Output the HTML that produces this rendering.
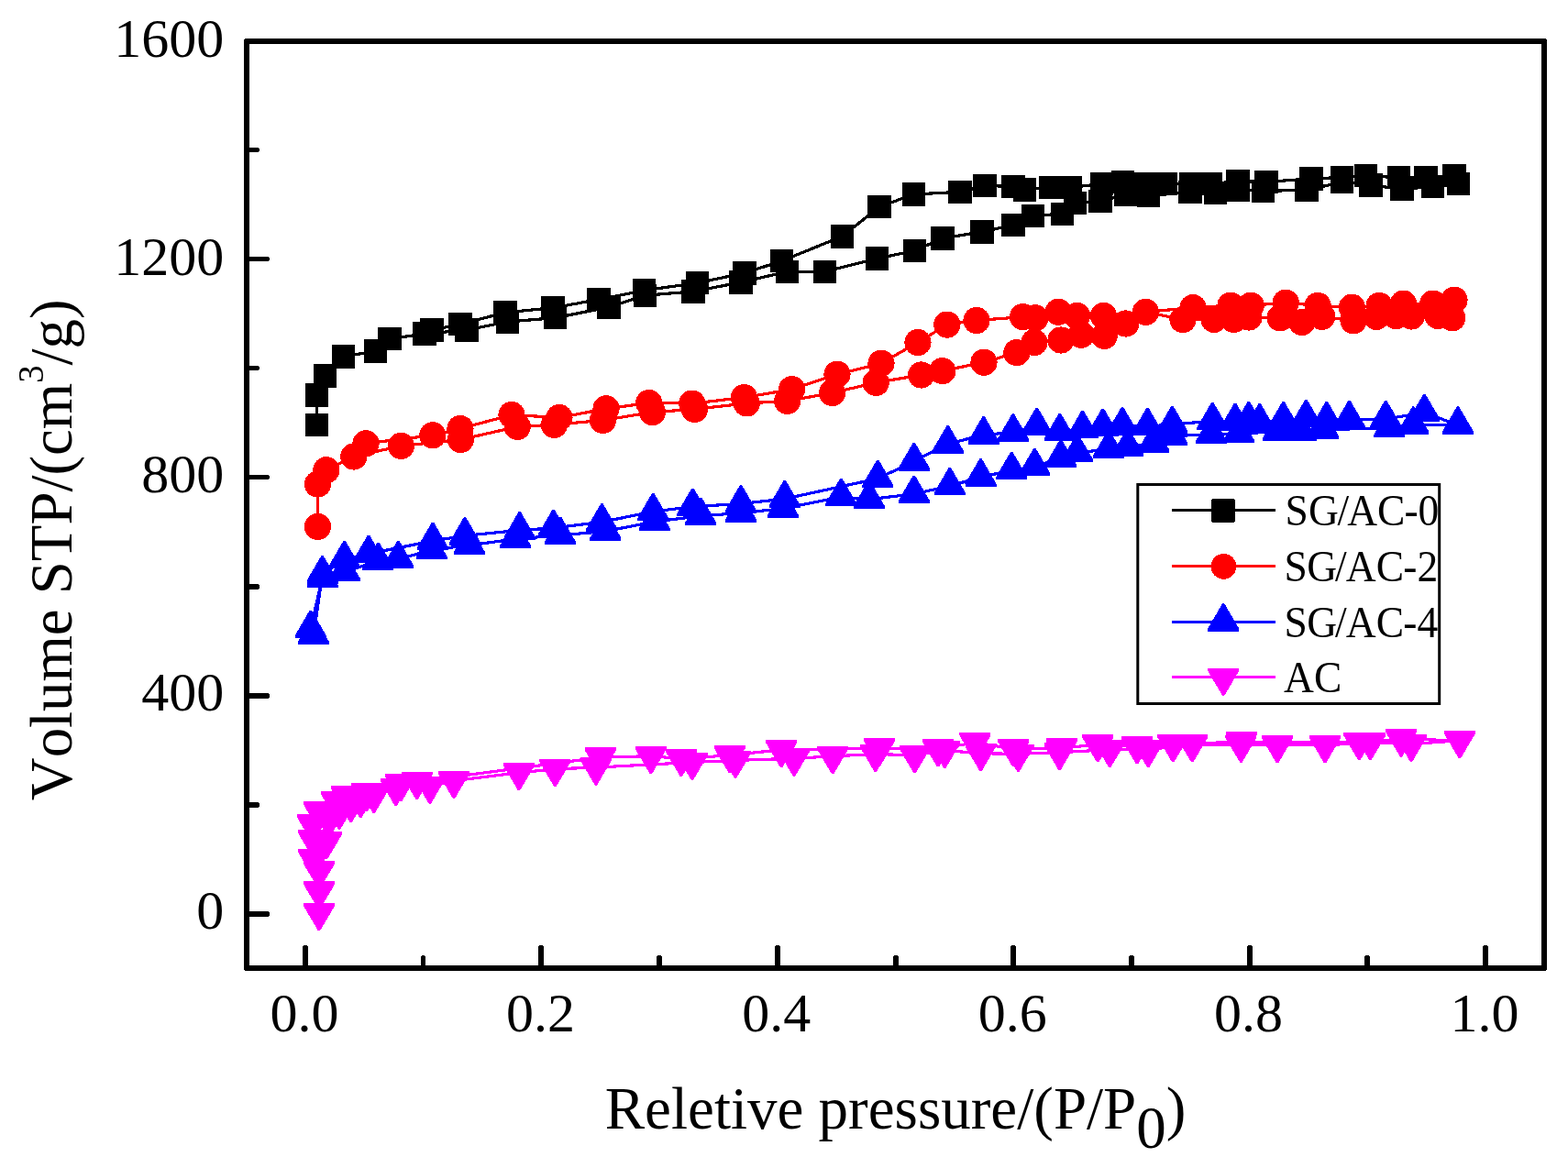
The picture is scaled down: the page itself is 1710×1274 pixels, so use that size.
<!DOCTYPE html>
<html lang="en"><head><meta charset="utf-8"><title>N2 adsorption-desorption isotherms</title>
<style>html,body{margin:0;padding:0;background:#fff}body{width:1710px;height:1274px;overflow:hidden}svg{display:block}text{font-family:"Liberation Serif","DejaVu Serif",serif;fill:#000;font-kerning:none;font-variant-ligatures:none}</style>
</head><body>
<svg width="1710" height="1274" viewBox="0 0 1710 1274">
<rect width="1710" height="1274" fill="#fff"/>
<g fill="#000" shape-rendering="crispEdges"><path d="M330 1056V1032h1v-1h4v1h1V1056z"/><path d="M459 1056V1043h1v-1h3v1h1V1056z"/><path d="M587 1056V1032h1v-1h4v1h1V1056z"/><path d="M716 1056V1043h1v-1h4v1h1V1056z"/><path d="M845 1056V1032h1v-1h4v1h1V1056z"/><path d="M974 1056V1043h1v-1h4v1h1V1056z"/><path d="M1102 1056V1032h1v-1h4v1h1V1056z"/><path d="M1231 1056V1043h1v-1h4v1h1V1056z"/><path d="M1360 1056V1032h1v-1h4v1h1V1056z"/><path d="M1488 1056V1043h1v-1h4v1h1V1056z"/><path d="M1617 1056V1032h1v-1h4v1h1V1056z"/><path d="M269 994H293v1h1v4h-1v1H269z"/><path d="M269 875H282v1h1v4h-1v1H269z"/><path d="M269 756H293v1h1v4h-1v1H269z"/><path d="M269 637H282v1h1v4h-1v1H269z"/><path d="M269 518H293v1h1v3h-1v1H269z"/><path d="M269 399H282v1h1v3h-1v1H269z"/><path d="M269 280H293v1h1v3h-1v1H269z"/><path d="M269 161H282v1h1v3h-1v1H269z"/></g>
<rect x="269" y="45" width="1415" height="1011" fill="none" stroke="#000" stroke-width="6" stroke-linejoin="round" shape-rendering="crispEdges"/>
<g font-size="60" text-anchor="end"><text x="244.2" y="1013">0</text><text x="244.2" y="775">400</text><text x="244.2" y="537">800</text><text x="244.2" y="299.5">1200</text><text x="244.2" y="62">1600</text></g>
<g font-size="60" text-anchor="middle"><text x="332" y="1124.6">0.0</text><text x="589.4" y="1124.6">0.2</text><text x="846.8" y="1124.6">0.4</text><text x="1104.2" y="1124.6">0.6</text><text x="1361.6" y="1124.6">0.8</text><text x="1619" y="1124.6">1.0</text></g>
<text x="976.6" y="1231" font-size="65" text-anchor="middle">Reletive pressure/(P/P<tspan dy="21">0</tspan><tspan dy="-21">)</tspan></text>
<text transform="translate(78.3,599.8) rotate(-90) scale(0.982,1)" font-size="66" text-anchor="middle">Volume STP/(cm<tspan dy="-31" font-size="39.5">3</tspan><tspan dy="31">/g)</tspan></text>
<g shape-rendering="crispEdges"><polyline fill="none" stroke="#000" stroke-width="3.2" stroke-linejoin="round" points="345.5,463.4 345.5,431 354.5,410 374.5,389 409.7,383 425,369.7 463,364 509,360 553.5,351 605.5,346.7 664,335 703.6,322.2 755.8,318 807.8,308 858.3,296.3 899.4,296.3 956.6,282 997.3,273.5 1028,260 1071,252.8 1105,245.5 1126.5,235.4 1158.3,233.2 1172.3,221.3 1200,219.3 1227.4,212.4 1252.4,213.6 1298,209.6 1325.5,210.5 1350.4,207.5 1377.5,208.2 1425,207.5 1463.6,198.4 1495,202 1529,206.2 1562.4,203.6 1590.2,200.5"/><polyline fill="none" stroke="#000" stroke-width="3.2" stroke-linejoin="round" points="1586,191.7 1555,193.7 1525.3,193.7 1489.5,191.7 1463.6,193.6 1430,194.8 1381,198.5 1350,197.6 1320,200.6 1298.7,200.6 1271.3,200.6 1250,200.6 1224.7,198.3 1201.2,200.6 1167.4,204.4 1146,204.2 1117.7,207 1105,203.4 1074,202.5 1047,209.3 996.5,212 959,225.6 918.5,257.8 852.4,284.7 812,297.8 760.4,308.7 702.7,316.7 652.8,326.7 603,335.8 551,340.8 502,353.7 471,359.8"/><g fill="#000"><rect x="332.8" y="450.7" width="25.4" height="25.4"/><rect x="332.8" y="418.3" width="25.4" height="25.4"/><rect x="341.8" y="397.3" width="25.4" height="25.4"/><rect x="361.8" y="376.3" width="25.4" height="25.4"/><rect x="397" y="370.3" width="25.4" height="25.4"/><rect x="412.3" y="357" width="25.4" height="25.4"/><rect x="450.3" y="351.3" width="25.4" height="25.4"/><rect x="496.3" y="347.3" width="25.4" height="25.4"/><rect x="540.8" y="338.3" width="25.4" height="25.4"/><rect x="592.8" y="334" width="25.4" height="25.4"/><rect x="651.3" y="322.3" width="25.4" height="25.4"/><rect x="690.9" y="309.5" width="25.4" height="25.4"/><rect x="743.1" y="305.3" width="25.4" height="25.4"/><rect x="795.1" y="295.3" width="25.4" height="25.4"/><rect x="845.6" y="283.6" width="25.4" height="25.4"/><rect x="886.7" y="283.6" width="25.4" height="25.4"/><rect x="943.9" y="269.3" width="25.4" height="25.4"/><rect x="984.6" y="260.8" width="25.4" height="25.4"/><rect x="1015.3" y="247.3" width="25.4" height="25.4"/><rect x="1058.3" y="240.1" width="25.4" height="25.4"/><rect x="1092.3" y="232.8" width="25.4" height="25.4"/><rect x="1113.8" y="222.7" width="25.4" height="25.4"/><rect x="1145.6" y="220.5" width="25.4" height="25.4"/><rect x="1159.6" y="208.6" width="25.4" height="25.4"/><rect x="1187.3" y="206.6" width="25.4" height="25.4"/><rect x="1214.7" y="199.7" width="25.4" height="25.4"/><rect x="1239.7" y="200.9" width="25.4" height="25.4"/><rect x="1285.3" y="196.9" width="25.4" height="25.4"/><rect x="1312.8" y="197.8" width="25.4" height="25.4"/><rect x="1337.7" y="194.8" width="25.4" height="25.4"/><rect x="1364.8" y="195.5" width="25.4" height="25.4"/><rect x="1412.3" y="194.8" width="25.4" height="25.4"/><rect x="1450.9" y="185.7" width="25.4" height="25.4"/><rect x="1482.3" y="189.3" width="25.4" height="25.4"/><rect x="1516.3" y="193.5" width="25.4" height="25.4"/><rect x="1549.7" y="190.9" width="25.4" height="25.4"/><rect x="1577.5" y="187.8" width="25.4" height="25.4"/><rect x="1573.3" y="179" width="25.4" height="25.4"/><rect x="1542.3" y="181" width="25.4" height="25.4"/><rect x="1512.6" y="181" width="25.4" height="25.4"/><rect x="1476.8" y="179" width="25.4" height="25.4"/><rect x="1450.9" y="180.9" width="25.4" height="25.4"/><rect x="1417.3" y="182.1" width="25.4" height="25.4"/><rect x="1368.3" y="185.8" width="25.4" height="25.4"/><rect x="1337.3" y="184.9" width="25.4" height="25.4"/><rect x="1307.3" y="187.9" width="25.4" height="25.4"/><rect x="1286" y="187.9" width="25.4" height="25.4"/><rect x="1258.6" y="187.9" width="25.4" height="25.4"/><rect x="1237.3" y="187.9" width="25.4" height="25.4"/><rect x="1212" y="185.6" width="25.4" height="25.4"/><rect x="1188.5" y="187.9" width="25.4" height="25.4"/><rect x="1154.7" y="191.7" width="25.4" height="25.4"/><rect x="1133.3" y="191.5" width="25.4" height="25.4"/><rect x="1105" y="194.3" width="25.4" height="25.4"/><rect x="1092.3" y="190.7" width="25.4" height="25.4"/><rect x="1061.3" y="189.8" width="25.4" height="25.4"/><rect x="1034.3" y="196.6" width="25.4" height="25.4"/><rect x="983.8" y="199.3" width="25.4" height="25.4"/><rect x="946.3" y="212.9" width="25.4" height="25.4"/><rect x="905.8" y="245.1" width="25.4" height="25.4"/><rect x="839.7" y="272" width="25.4" height="25.4"/><rect x="799.3" y="285.1" width="25.4" height="25.4"/><rect x="747.7" y="296" width="25.4" height="25.4"/><rect x="690" y="304" width="25.4" height="25.4"/><rect x="640.1" y="314" width="25.4" height="25.4"/><rect x="590.3" y="323.1" width="25.4" height="25.4"/><rect x="538.3" y="328.1" width="25.4" height="25.4"/><rect x="489.3" y="341" width="25.4" height="25.4"/><rect x="458.3" y="347.1" width="25.4" height="25.4"/></g></g>
<g shape-rendering="crispEdges"><polyline fill="none" stroke="#f00" stroke-width="3.2" stroke-linejoin="round" points="346.5,574.4 346.5,528.1 355.8,512.7 385.7,498 437.3,486.4 502.3,479.5 564.2,465.4 604.4,463.3 657.5,458.4 711.4,449.6 757.5,446.4 814.3,439.9 858.7,437.4 907.6,428.5 955.2,417.4 1004.6,409 1027.8,404.6 1073,395.2 1108.8,384.6 1128,373.5 1157,371 1179.3,365.2 1204.2,366.4 1227.7,353 1249.4,340.3 1290,348.6 1324,348.4 1345.5,348.4 1362,346 1396,346.8 1419.8,351.5 1441.8,345.4 1476,349.7 1501.1,345.4 1522.4,344.5 1539.2,345 1568.1,344.5 1583.7,346.8"/><polyline fill="none" stroke="#f00" stroke-width="3.2" stroke-linejoin="round" points="1586,327.3 1562.8,331.1 1530.5,331.1 1504.1,333.4 1474.4,335.2 1437.1,333.4 1402.2,330.2 1364.3,333.2 1342,333.2 1301,335.6 1249.4,340.3 1203.4,344.4 1174.5,344.4 1154.2,340.3 1129,346.7 1115.5,345.7 1065,349.5 1032.8,354.1 1001,373.5 961,396.3 913,408.3 863.6,424.7 811.4,433.6 754.7,440.1 707.8,439.5 661,445.8 610,455.5 558,452.5 502,467.5 471.8,474.8 399,483.7"/><g fill="#f00"><circle cx="346.5" cy="574.4" r="14.6"/><circle cx="346.5" cy="528.1" r="14.6"/><circle cx="355.8" cy="512.7" r="14.6"/><circle cx="385.7" cy="498" r="14.6"/><circle cx="437.3" cy="486.4" r="14.6"/><circle cx="502.3" cy="479.5" r="14.6"/><circle cx="564.2" cy="465.4" r="14.6"/><circle cx="604.4" cy="463.3" r="14.6"/><circle cx="657.5" cy="458.4" r="14.6"/><circle cx="711.4" cy="449.6" r="14.6"/><circle cx="757.5" cy="446.4" r="14.6"/><circle cx="814.3" cy="439.9" r="14.6"/><circle cx="858.7" cy="437.4" r="14.6"/><circle cx="907.6" cy="428.5" r="14.6"/><circle cx="955.2" cy="417.4" r="14.6"/><circle cx="1004.6" cy="409" r="14.6"/><circle cx="1027.8" cy="404.6" r="14.6"/><circle cx="1073" cy="395.2" r="14.6"/><circle cx="1108.8" cy="384.6" r="14.6"/><circle cx="1128" cy="373.5" r="14.6"/><circle cx="1157" cy="371" r="14.6"/><circle cx="1179.3" cy="365.2" r="14.6"/><circle cx="1204.2" cy="366.4" r="14.6"/><circle cx="1227.7" cy="353" r="14.6"/><circle cx="1249.4" cy="340.3" r="14.6"/><circle cx="1290" cy="348.6" r="14.6"/><circle cx="1324" cy="348.4" r="14.6"/><circle cx="1345.5" cy="348.4" r="14.6"/><circle cx="1362" cy="346" r="14.6"/><circle cx="1396" cy="346.8" r="14.6"/><circle cx="1419.8" cy="351.5" r="14.6"/><circle cx="1441.8" cy="345.4" r="14.6"/><circle cx="1476" cy="349.7" r="14.6"/><circle cx="1501.1" cy="345.4" r="14.6"/><circle cx="1522.4" cy="344.5" r="14.6"/><circle cx="1539.2" cy="345" r="14.6"/><circle cx="1568.1" cy="344.5" r="14.6"/><circle cx="1583.7" cy="346.8" r="14.6"/><circle cx="1586" cy="327.3" r="14.6"/><circle cx="1562.8" cy="331.1" r="14.6"/><circle cx="1530.5" cy="331.1" r="14.6"/><circle cx="1504.1" cy="333.4" r="14.6"/><circle cx="1474.4" cy="335.2" r="14.6"/><circle cx="1437.1" cy="333.4" r="14.6"/><circle cx="1402.2" cy="330.2" r="14.6"/><circle cx="1364.3" cy="333.2" r="14.6"/><circle cx="1342" cy="333.2" r="14.6"/><circle cx="1301" cy="335.6" r="14.6"/><circle cx="1249.4" cy="340.3" r="14.6"/><circle cx="1203.4" cy="344.4" r="14.6"/><circle cx="1174.5" cy="344.4" r="14.6"/><circle cx="1154.2" cy="340.3" r="14.6"/><circle cx="1129" cy="346.7" r="14.6"/><circle cx="1115.5" cy="345.7" r="14.6"/><circle cx="1065" cy="349.5" r="14.6"/><circle cx="1032.8" cy="354.1" r="14.6"/><circle cx="1001" cy="373.5" r="14.6"/><circle cx="961" cy="396.3" r="14.6"/><circle cx="913" cy="408.3" r="14.6"/><circle cx="863.6" cy="424.7" r="14.6"/><circle cx="811.4" cy="433.6" r="14.6"/><circle cx="754.7" cy="440.1" r="14.6"/><circle cx="707.8" cy="439.5" r="14.6"/><circle cx="661" cy="445.8" r="14.6"/><circle cx="610" cy="455.5" r="14.6"/><circle cx="558" cy="452.5" r="14.6"/><circle cx="502" cy="467.5" r="14.6"/><circle cx="471.8" cy="474.8" r="14.6"/><circle cx="399" cy="483.7" r="14.6"/></g></g>
<g shape-rendering="crispEdges"><polyline fill="none" stroke="#00f" stroke-width="3.2" stroke-linejoin="round" points="338.7,686 351.5,630.7 375.8,623.9 412.4,611.8 434.4,610.1 470.5,599.7 511.8,594.8 562.1,587.9 611,583.9 660.4,579.5 713.7,569 764.2,562.8 808,559.5 853.9,554.8 917.3,542 947.8,544.7 996.8,538.8 1035.8,530.1 1069.5,520.4 1103.2,513 1128.4,509 1156.9,499.7 1175,493.9 1209.1,489.8 1230,487.5 1258,483.2 1278,475.6 1321,473.8 1351,473 1393.8,470.8 1419,470.8 1443.2,468.7 1515.4,466.7 1541.3,463.6 1590,463.6"/><polyline fill="none" stroke="#00f" stroke-width="3.2" stroke-linejoin="round" points="1590,463.6 1553.4,450 1511.3,457.1 1471.5,457.1 1446.8,458.2 1424.4,456 1399.6,458.2 1373.7,460.2 1361.8,458.2 1347,460 1322.3,459.1 1278.4,463.1 1251.5,465 1224,464.2 1202.7,465.7 1180.6,468 1155.8,471 1130.7,464.9 1104.8,471.6 1072.6,474.3 1033.7,484.2 996.8,503.2 957.3,522 855.8,544.1 808,549.4 755.4,552.7 712.2,558 656.4,569.4 603.6,575.9 566.7,578.4 507,584.3 472,590 402,604 375.6,610.1 351.5,626.2 342,693"/><g fill="#00f"><path d="M321.7 696.3h34v-3.2L339.8 665.8h-2.2L321.7 693.1z"/><path d="M334.5 641h34v-3.2L352.6 610.5h-2.2L334.5 637.8z"/><path d="M358.8 634.2h34v-3.2L376.9 603.7h-2.2L358.8 631z"/><path d="M395.4 622.1h34v-3.2L413.5 591.6h-2.2L395.4 618.9z"/><path d="M417.4 620.4h34v-3.2L435.5 589.9h-2.2L417.4 617.2z"/><path d="M453.5 610h34v-3.2L471.6 579.5h-2.2L453.5 606.8z"/><path d="M494.8 605.1h34v-3.2L512.9 574.6h-2.2L494.8 601.9z"/><path d="M545.1 598.2h34v-3.2L563.2 567.7h-2.2L545.1 595z"/><path d="M594 594.2h34v-3.2L612.1 563.7h-2.2L594 591z"/><path d="M643.4 589.8h34v-3.2L661.5 559.3h-2.2L643.4 586.6z"/><path d="M696.7 579.3h34v-3.2L714.8 548.8h-2.2L696.7 576.1z"/><path d="M747.2 573.1h34v-3.2L765.3 542.6h-2.2L747.2 569.9z"/><path d="M791 569.8h34v-3.2L809.1 539.3h-2.2L791 566.6z"/><path d="M836.9 565.1h34v-3.2L855 534.6h-2.2L836.9 561.9z"/><path d="M900.3 552.3h34v-3.2L918.4 521.8h-2.2L900.3 549.1z"/><path d="M930.8 555h34v-3.2L948.9 524.5h-2.2L930.8 551.8z"/><path d="M979.8 549.1h34v-3.2L997.9 518.6h-2.2L979.8 545.9z"/><path d="M1018.8 540.4h34v-3.2L1036.9 509.9h-2.2L1018.8 537.2z"/><path d="M1052.5 530.7h34v-3.2L1070.6 500.2h-2.2L1052.5 527.5z"/><path d="M1086.2 523.3h34v-3.2L1104.3 492.8h-2.2L1086.2 520.1z"/><path d="M1111.4 519.3h34v-3.2L1129.5 488.8h-2.2L1111.4 516.1z"/><path d="M1139.9 510h34v-3.2L1158 479.5h-2.2L1139.9 506.8z"/><path d="M1158 504.2h34v-3.2L1176.1 473.7h-2.2L1158 501z"/><path d="M1192.1 500.1h34v-3.2L1210.2 469.6h-2.2L1192.1 496.9z"/><path d="M1213 497.8h34v-3.2L1231.1 467.3h-2.2L1213 494.6z"/><path d="M1241 493.5h34v-3.2L1259.1 463h-2.2L1241 490.3z"/><path d="M1261 485.9h34v-3.2L1279.1 455.4h-2.2L1261 482.7z"/><path d="M1304 484.1h34v-3.2L1322.1 453.6h-2.2L1304 480.9z"/><path d="M1334 483.3h34v-3.2L1352.1 452.8h-2.2L1334 480.1z"/><path d="M1376.8 481.1h34v-3.2L1394.9 450.6h-2.2L1376.8 477.9z"/><path d="M1402 481.1h34v-3.2L1420.1 450.6h-2.2L1402 477.9z"/><path d="M1426.2 479h34v-3.2L1444.3 448.5h-2.2L1426.2 475.8z"/><path d="M1498.4 477h34v-3.2L1516.5 446.5h-2.2L1498.4 473.8z"/><path d="M1524.3 473.9h34v-3.2L1542.4 443.4h-2.2L1524.3 470.7z"/><path d="M1573 473.9h34v-3.2L1591.1 443.4h-2.2L1573 470.7z"/><path d="M1573 473.9h34v-3.2L1591.1 443.4h-2.2L1573 470.7z"/><path d="M1536.4 460.3h34v-3.2L1554.5 429.8h-2.2L1536.4 457.1z"/><path d="M1494.3 467.4h34v-3.2L1512.4 436.9h-2.2L1494.3 464.2z"/><path d="M1454.5 467.4h34v-3.2L1472.6 436.9h-2.2L1454.5 464.2z"/><path d="M1429.8 468.5h34v-3.2L1447.9 438h-2.2L1429.8 465.3z"/><path d="M1407.4 466.3h34v-3.2L1425.5 435.8h-2.2L1407.4 463.1z"/><path d="M1382.6 468.5h34v-3.2L1400.7 438h-2.2L1382.6 465.3z"/><path d="M1356.7 470.5h34v-3.2L1374.8 440h-2.2L1356.7 467.3z"/><path d="M1344.8 468.5h34v-3.2L1362.9 438h-2.2L1344.8 465.3z"/><path d="M1330 470.3h34v-3.2L1348.1 439.8h-2.2L1330 467.1z"/><path d="M1305.3 469.4h34v-3.2L1323.4 438.9h-2.2L1305.3 466.2z"/><path d="M1261.4 473.4h34v-3.2L1279.5 442.9h-2.2L1261.4 470.2z"/><path d="M1234.5 475.3h34v-3.2L1252.6 444.8h-2.2L1234.5 472.1z"/><path d="M1207 474.5h34v-3.2L1225.1 444h-2.2L1207 471.3z"/><path d="M1185.7 476h34v-3.2L1203.8 445.5h-2.2L1185.7 472.8z"/><path d="M1163.6 478.3h34v-3.2L1181.7 447.8h-2.2L1163.6 475.1z"/><path d="M1138.8 481.3h34v-3.2L1156.9 450.8h-2.2L1138.8 478.1z"/><path d="M1113.7 475.2h34v-3.2L1131.8 444.7h-2.2L1113.7 472z"/><path d="M1087.8 481.9h34v-3.2L1105.9 451.4h-2.2L1087.8 478.7z"/><path d="M1055.6 484.6h34v-3.2L1073.7 454.1h-2.2L1055.6 481.4z"/><path d="M1016.7 494.5h34v-3.2L1034.8 464h-2.2L1016.7 491.3z"/><path d="M979.8 513.5h34v-3.2L997.9 483h-2.2L979.8 510.3z"/><path d="M940.3 532.3h34v-3.2L958.4 501.8h-2.2L940.3 529.1z"/><path d="M838.8 554.4h34v-3.2L856.9 523.9h-2.2L838.8 551.2z"/><path d="M791 559.7h34v-3.2L809.1 529.2h-2.2L791 556.5z"/><path d="M738.4 563h34v-3.2L756.5 532.5h-2.2L738.4 559.8z"/><path d="M695.2 568.3h34v-3.2L713.3 537.8h-2.2L695.2 565.1z"/><path d="M639.4 579.7h34v-3.2L657.5 549.2h-2.2L639.4 576.5z"/><path d="M586.6 586.2h34v-3.2L604.7 555.7h-2.2L586.6 583z"/><path d="M549.7 588.7h34v-3.2L567.8 558.2h-2.2L549.7 585.5z"/><path d="M490 594.6h34v-3.2L508.1 564.1h-2.2L490 591.4z"/><path d="M455 600.3h34v-3.2L473.1 569.8h-2.2L455 597.1z"/><path d="M385 614.3h34v-3.2L403.1 583.8h-2.2L385 611.1z"/><path d="M358.6 620.4h34v-3.2L376.7 589.9h-2.2L358.6 617.2z"/><path d="M334.5 636.5h34v-3.2L352.6 606h-2.2L334.5 633.3z"/><path d="M325 703.3h34v-3.2L343.1 672.8h-2.2L325 700.1z"/></g></g>
<g shape-rendering="crispEdges"><polyline fill="none" stroke="#f0f" stroke-width="3.2" stroke-linejoin="round" points="348,995.8 348,972.2 348,949.9 342,937.1 342,916.2 341,899.2 348,885.2 370,885.3 382.6,877.6 393.3,872.7 407.8,867.5 431.6,859.5 468.8,857.3 495,851.6 566,842.8 605.4,838.8 649.9,837.1 754.9,831.5 802,829.4 866,827.3 908.1,824.9 954.7,822.4 997.5,824 1030.3,818.5 1069.5,821.7 1110.5,822.4 1155.5,820.7 1210.3,817.7 1252.2,817.7 1300.2,812 1353.4,812.4 1393,812.9 1445,812.9 1494.4,809.8 1539,811.5 1591.9,807.8"/><polyline fill="none" stroke="#f0f" stroke-width="3.2" stroke-linejoin="round" points="1591.9,807.8 1528,806.1 1482.3,809.9 1353.8,809 1279.3,812 1240,814 1197.2,812 1157.8,816.1 1105.3,817 1063.4,809.9 1023,817 959,816.1 852.2,817.8 795.8,823.8 742.9,827.6 709.9,824.7 654.8,826.1 454.6,852.7 437,854.9 400,865.1 378.2,867.9 367,874.1 358.7,893.8 356,917.8"/><g fill="#f0f"><path d="M331 985h34v3.2L349.1 1015.2h-2.2L331 988.2z"/><path d="M331 961.4h34v3.2L349.1 991.6h-2.2L331 964.6z"/><path d="M331 939.1h34v3.2L349.1 969.3h-2.2L331 942.3z"/><path d="M325 926.3h34v3.2L343.1 956.5h-2.2L325 929.5z"/><path d="M325 905.4h34v3.2L343.1 935.6h-2.2L325 908.6z"/><path d="M324 888.4h34v3.2L342.1 918.6h-2.2L324 891.6z"/><path d="M331 874.4h34v3.2L349.1 904.6h-2.2L331 877.6z"/><path d="M353 874.5h34v3.2L371.1 904.7h-2.2L353 877.7z"/><path d="M365.6 866.8h34v3.2L383.7 897h-2.2L365.6 870z"/><path d="M376.3 861.9h34v3.2L394.4 892.1h-2.2L376.3 865.1z"/><path d="M390.8 856.7h34v3.2L408.9 886.9h-2.2L390.8 859.9z"/><path d="M414.6 848.7h34v3.2L432.7 878.9h-2.2L414.6 851.9z"/><path d="M451.8 846.5h34v3.2L469.9 876.7h-2.2L451.8 849.7z"/><path d="M478 840.8h34v3.2L496.1 871h-2.2L478 844z"/><path d="M549 832h34v3.2L567.1 862.2h-2.2L549 835.2z"/><path d="M588.4 828h34v3.2L606.5 858.2h-2.2L588.4 831.2z"/><path d="M632.9 826.3h34v3.2L651 856.5h-2.2L632.9 829.5z"/><path d="M737.9 820.7h34v3.2L756 850.9h-2.2L737.9 823.9z"/><path d="M785 818.6h34v3.2L803.1 848.8h-2.2L785 821.8z"/><path d="M849 816.5h34v3.2L867.1 846.7h-2.2L849 819.7z"/><path d="M891.1 814.1h34v3.2L909.2 844.3h-2.2L891.1 817.3z"/><path d="M937.7 811.6h34v3.2L955.8 841.8h-2.2L937.7 814.8z"/><path d="M980.5 813.2h34v3.2L998.6 843.4h-2.2L980.5 816.4z"/><path d="M1013.3 807.7h34v3.2L1031.4 837.9h-2.2L1013.3 810.9z"/><path d="M1052.5 810.9h34v3.2L1070.6 841.1h-2.2L1052.5 814.1z"/><path d="M1093.5 811.6h34v3.2L1111.6 841.8h-2.2L1093.5 814.8z"/><path d="M1138.5 809.9h34v3.2L1156.6 840.1h-2.2L1138.5 813.1z"/><path d="M1193.3 806.9h34v3.2L1211.4 837.1h-2.2L1193.3 810.1z"/><path d="M1235.2 806.9h34v3.2L1253.3 837.1h-2.2L1235.2 810.1z"/><path d="M1283.2 801.2h34v3.2L1301.3 831.4h-2.2L1283.2 804.4z"/><path d="M1336.4 801.6h34v3.2L1354.5 831.8h-2.2L1336.4 804.8z"/><path d="M1376 802.1h34v3.2L1394.1 832.3h-2.2L1376 805.3z"/><path d="M1428 802.1h34v3.2L1446.1 832.3h-2.2L1428 805.3z"/><path d="M1477.4 799h34v3.2L1495.5 829.2h-2.2L1477.4 802.2z"/><path d="M1522 800.7h34v3.2L1540.1 830.9h-2.2L1522 803.9z"/><path d="M1574.9 797h34v3.2L1593 827.2h-2.2L1574.9 800.2z"/><path d="M1574.9 797h34v3.2L1593 827.2h-2.2L1574.9 800.2z"/><path d="M1511 795.3h34v3.2L1529.1 825.5h-2.2L1511 798.5z"/><path d="M1465.3 799.1h34v3.2L1483.4 829.3h-2.2L1465.3 802.3z"/><path d="M1336.8 798.2h34v3.2L1354.9 828.4h-2.2L1336.8 801.4z"/><path d="M1262.3 801.2h34v3.2L1280.4 831.4h-2.2L1262.3 804.4z"/><path d="M1223 803.2h34v3.2L1241.1 833.4h-2.2L1223 806.4z"/><path d="M1180.2 801.2h34v3.2L1198.3 831.4h-2.2L1180.2 804.4z"/><path d="M1140.8 805.3h34v3.2L1158.9 835.5h-2.2L1140.8 808.5z"/><path d="M1088.3 806.2h34v3.2L1106.4 836.4h-2.2L1088.3 809.4z"/><path d="M1046.4 799.1h34v3.2L1064.5 829.3h-2.2L1046.4 802.3z"/><path d="M1006 806.2h34v3.2L1024.1 836.4h-2.2L1006 809.4z"/><path d="M942 805.3h34v3.2L960.1 835.5h-2.2L942 808.5z"/><path d="M835.2 807h34v3.2L853.3 837.2h-2.2L835.2 810.2z"/><path d="M778.8 813h34v3.2L796.9 843.2h-2.2L778.8 816.2z"/><path d="M725.9 816.8h34v3.2L744 847h-2.2L725.9 820z"/><path d="M692.9 813.9h34v3.2L711 844.1h-2.2L692.9 817.1z"/><path d="M637.8 815.3h34v3.2L655.9 845.5h-2.2L637.8 818.5z"/><path d="M437.6 841.9h34v3.2L455.7 872.1h-2.2L437.6 845.1z"/><path d="M420 844.1h34v3.2L438.1 874.3h-2.2L420 847.3z"/><path d="M383 854.3h34v3.2L401.1 884.5h-2.2L383 857.5z"/><path d="M361.2 857.1h34v3.2L379.3 887.3h-2.2L361.2 860.3z"/><path d="M350 863.3h34v3.2L368.1 893.5h-2.2L350 866.5z"/><path d="M341.7 883h34v3.2L359.8 913.2h-2.2L341.7 886.2z"/><path d="M339 907h34v3.2L357.1 937.2h-2.2L339 910.2z"/></g></g>
<rect x="1240.8" y="528.5" width="328.9" height="239" fill="#fff" stroke="#000" stroke-width="3"/>
<g shape-rendering="crispEdges"><path d="M1278.4 556.8H1390.8" stroke="#000" stroke-width="3.2" fill="none"/><g fill="#000"><path d="M1322 544h24v1h1v24h-1v1h-24v-1h-1v-24h1z"/></g><path d="M1278.4 617.3H1390.8" stroke="#f00" stroke-width="3.2" fill="none"/><g fill="#f00"><circle cx="1334.4" cy="617.9" r="13.9"/></g><path d="M1278.4 678.5H1390.8" stroke="#00f" stroke-width="3.2" fill="none"/><g fill="#00f"><path d="M1317.2 688.8h34v-3.2L1335.3 658.3h-2.2L1317.2 685.6z"/></g><path d="M1278.4 738.6H1390.8" stroke="#f0f" stroke-width="3.2" fill="none"/><g fill="#f0f"><path d="M1317.2 728.6h34v3.2L1335.3 758.8h-2.2L1317.2 731.8z"/></g></g>
<clipPath id="lc"><rect x="1242" y="530" width="326.3" height="236"/></clipPath>
<g font-size="49.5" clip-path="url(#lc)"><text transform="translate(0,573.3) scale(0.92,1)" x="1523.5 1551.2 1585.2 1597.1 1632.6 1664.8 1680.9">SG/AC-0</text><text transform="translate(0,634.2) scale(0.92,1)" x="1522.4 1549.3 1582.6 1595.5 1631.3 1663.3 1680">SG/AC-2</text><text transform="translate(0,694.6) scale(0.92,1)" x="1522.4 1549.3 1582.6 1595.5 1631.3 1663.3 1680">SG/AC-4</text><text transform="translate(0,755.3) scale(0.92,1)" x="1521.7 1557.6">AC</text></g>
</svg></body></html>
